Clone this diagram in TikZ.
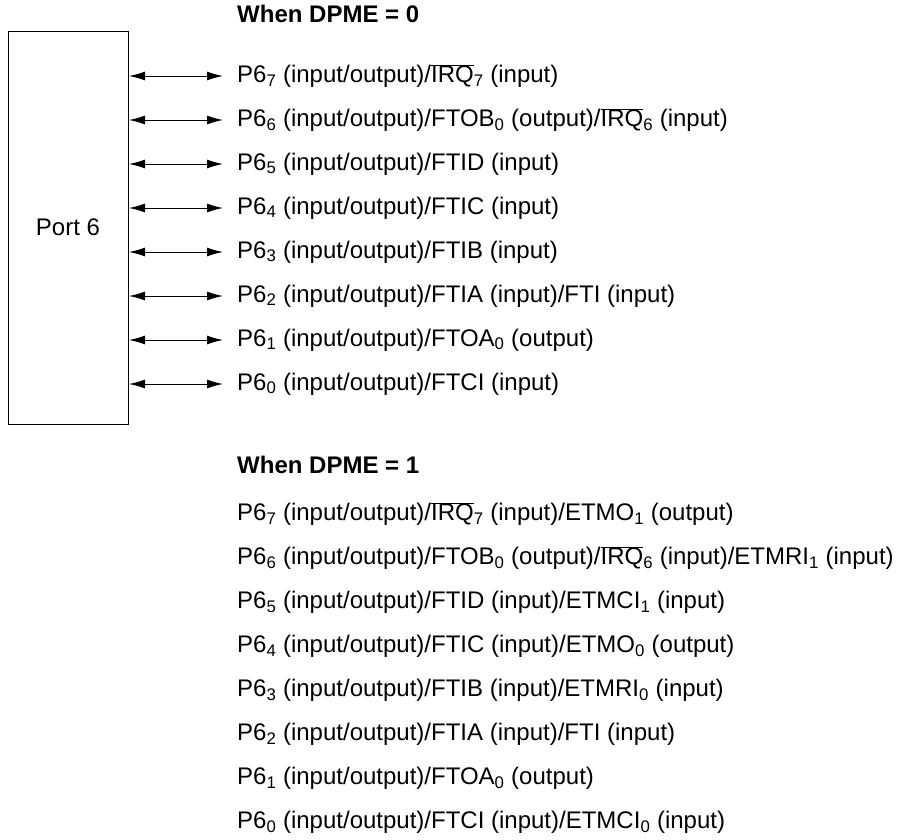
\documentclass[tikz,border=0pt]{standalone}
\usepackage{fontspec}
\setmainfont{Liberation Sans}
\usetikzlibrary{arrows.meta,positioning}
\newcommand{\sbs}[1]{\textsubscript{#1}}
\newcommand{\ovl}[1]{$\overline{\mbox{#1}}$}
\tikzset{pin line/.style={line width=1pt,{Latex[length=16pt,width=9pt]}-{Latex[length=16pt,width=9pt]}},
 sig/.style={anchor=west,inner xsep=0pt,inner ysep=1pt,font=\fontsize{24}{28}\selectfont},
 head/.style={sig,font=\fontsize{24}{28}\selectfont\bfseries}}

\begin{document}
\begin{tikzpicture}[x=1pt,y=-1pt]
\useasboundingbox (0,0) rectangle (903,839);
\draw[line width=1pt] (8,31) rectangle (128,424);
\node[font=\fontsize{24}{28}\selectfont] (port) at (68,227.5){Port 6};
\coordinate (pe) at (129,0);
\node[head] (h0) at (237,14){When DPME = 0};
\foreach \k/\txt in {0/{P6\sbs{7} (input/output)/\ovl{IRQ}\sbs{7} (input)},
 1/{P6\sbs{6} (input/output)/FTOB\sbs{0} (output)/\ovl{IRQ}\sbs{6} (input)},
 2/{P6\sbs{5} (input/output)/FTID (input)},
 3/{P6\sbs{4} (input/output)/FTIC (input)},
 4/{P6\sbs{3} (input/output)/FTIB (input)},
 5/{P6\sbs{2} (input/output)/FTIA (input)/FTI (input)},
 6/{P6\sbs{1} (input/output)/FTOA\sbs{0} (output)},
 7/{P6\sbs{0} (input/output)/FTCI (input)}}{
 \node[sig] (a\k) at (237,76+44*\k){\txt};
 \coordinate (e\k) at ([xshift=-14pt]a\k.west);
 \draw[pin line] (pe |- e\k) -- (e\k);
}
\node[head] (h1) at (237,465){When DPME = 1};
\foreach \k/\txt in {0/{P6\sbs{7} (input/output)/\ovl{IRQ}\sbs{7} (input)/ETMO\sbs{1} (output)},
 1/{P6\sbs{6} (input/output)/FTOB\sbs{0} (output)/\ovl{IRQ}\sbs{6} (input)/ETMRI\sbs{1} (input)},
 2/{P6\sbs{5} (input/output)/FTID (input)/ETMCI\sbs{1} (input)},
 3/{P6\sbs{4} (input/output)/FTIC (input)/ETMO\sbs{0} (output)},
 4/{P6\sbs{3} (input/output)/FTIB (input)/ETMRI\sbs{0} (input)},
 5/{P6\sbs{2} (input/output)/FTIA (input)/FTI (input)},
 6/{P6\sbs{1} (input/output)/FTOA\sbs{0} (output)},
 7/{P6\sbs{0} (input/output)/FTCI (input)/ETMCI\sbs{0} (input)}}{
 \node[sig] (b\k) at (237,514+44.1*\k){\txt};
}
\end{tikzpicture}
\end{document}
